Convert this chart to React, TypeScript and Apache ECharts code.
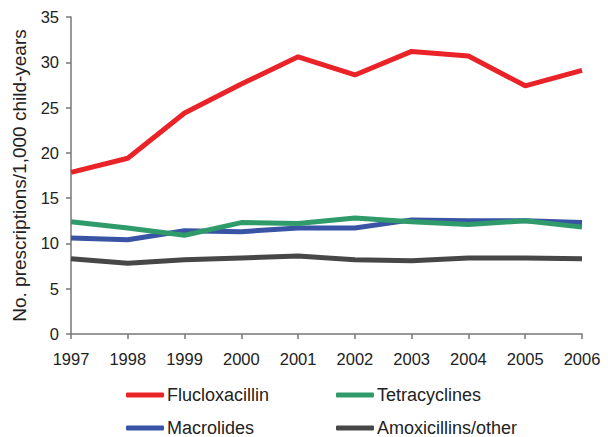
import React, { useEffect, useRef } from "react";
import * as echarts from "echarts";

const years = ["1997", "1998", "1999", "2000", "2001", "2002", "2003", "2004", "2005", "2006"];
const flucloxacillin = [17.85, 19.4, 24.4, 27.6, 30.6, 28.6, 31.2, 30.7, 27.4, 29.1];
const tetracyclines = [12.4, 11.7, 10.9, 12.3, 12.2, 12.8, 12.4, 12.1, 12.5, 11.8];
const macrolides = [10.6, 10.4, 11.4, 11.3, 11.7, 11.7, 12.6, 12.5, 12.5, 12.3];
const amoxicillins = [8.3, 7.8, 8.2, 8.4, 8.6, 8.2, 8.1, 8.4, 8.4, 8.3];

const seriesNames = ["Flucloxacillin", "Tetracyclines", "Macrolides", "Amoxicillins/other"];
const seriesColors = ["#ea2329", "#2f9b6a", "#3953a5", "#474747"];
const seriesData = [flucloxacillin, tetracyclines, macrolides, amoxicillins];

const FONT = "'Liberation Sans', Arial, sans-serif";

export default function App() {
  const ref = useRef<HTMLDivElement>(null);
  useEffect(() => {
    if (!ref.current) return;
    const chart = echarts.init(ref.current, null, { renderer: "svg" });
    const legendCommon = {
      orient: "vertical" as const,
      top: 386,
      itemWidth: 38,
      itemHeight: 5,
      itemGap: 15,
      icon: "roundRect",
      textStyle: { fontFamily: FONT, fontSize: 18, color: "#222", padding: [0, 0, 0, -2] },
      padding: 0,
    };
    chart.setOption({
      animation: false,
      backgroundColor: "#fff",
      grid: { left: 71, right: 26, top: 17, bottom: 103 },
      legend: [
        { ...legendCommon, left: 126, data: ["Flucloxacillin", "Macrolides"] },
        { ...legendCommon, left: 336, data: ["Tetracyclines", "Amoxicillins/other"] },
      ],
      xAxis: {
        type: "category",
        data: years,
        boundaryGap: false,
        axisLine: { lineStyle: { color: "#777", width: 1.5 } },
        axisTick: { show: true, length: 5, inside: false, alignWithLabel: true, lineStyle: { color: "#777", width: 1.5 } },
        axisLabel: { fontFamily: FONT, fontSize: 16.5, color: "#222", margin: 16 },
      },
      yAxis: {
        type: "value",
        min: 0,
        max: 35,
        interval: 5,
        name: "No. prescriptions/1,000 child-years",
        nameLocation: "middle",
        nameGap: 42,
        nameTextStyle: { fontFamily: FONT, fontSize: 19, color: "#222" },
        splitLine: { show: false },
        axisLine: { show: true, lineStyle: { color: "#777", width: 1.5 } },
        axisTick: { show: true, length: 5, lineStyle: { color: "#777", width: 1.5 } },
        axisLabel: { fontFamily: FONT, fontSize: 16.5, color: "#222", margin: 12 },
      },
      series: seriesNames.map((name, i) => ({
        name,
        type: "line",
        data: seriesData[i],
        symbol: "none",
        color: seriesColors[i],
        lineStyle: { width: 5, color: seriesColors[i] },
        z: 10 - i,
      })),
    });
    return () => chart.dispose();
  }, []);
  return <div ref={ref} style={{ width: 608, height: 437, position: "absolute", left: 0, top: 0 }} />;
}
